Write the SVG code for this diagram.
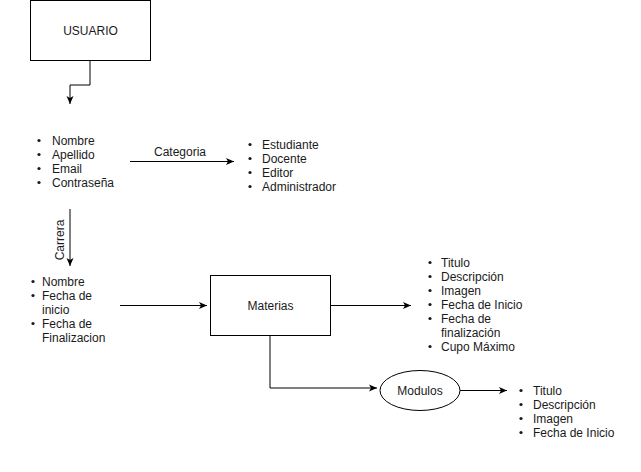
<svg xmlns="http://www.w3.org/2000/svg" width="641" height="472" viewBox="0 0 641 472">
<defs>
<style>
text{font-family:"Liberation Sans",Arial,sans-serif;font-size:12px;fill:#1a1a1a}
.box{fill:#fff;stroke:#000;stroke-width:1}
.c{fill:none;stroke:#000;stroke-width:1}
.b{fill:#1a1a1a}
</style>
<marker id="ah" markerUnits="userSpaceOnUse" markerWidth="10" markerHeight="10" refX="8" refY="4" orient="auto" viewBox="0 0 10 8">
<path d="M0,0.5 L8,4 L0,7.5 L2,4 z" fill="#000"/>
</marker>
</defs>
<rect width="641" height="472" fill="#fff"/>
<g id="connectors">
<path class="c" d="M90,60 V85 H70 V104" marker-end="url(#ah)"/>
<path class="c" d="M130,161.5 H234" marker-end="url(#ah)"/>
<path class="c" d="M70,209 V266" marker-end="url(#ah)"/>
<text transform="translate(64,240) rotate(-90)" text-anchor="middle">Carrera</text>
<text x="180" y="156" text-anchor="middle">Categoria</text>
<path class="c" d="M120,305.5 H207" marker-end="url(#ah)"/>
<path class="c" d="M330,305.5 H411" marker-end="url(#ah)"/>
<path class="c" d="M270,335 V388 H377" marker-end="url(#ah)"/>
<path class="c" d="M460,390.5 H507" marker-end="url(#ah)"/>
</g>
<g id="usuario">
<rect class="box" x="30.5" y="0.5" width="120" height="60"/>
<text x="90.5" y="34.5" text-anchor="middle">USUARIO</text>
</g>
<g id="usuario-attrs">
<circle class="b" cx="39" cy="140.5" r="1.6"/><text x="52" y="144.5">Nombre</text>
<circle class="b" cx="39" cy="154.5" r="1.6"/><text x="52" y="158.5">Apellido</text>
<circle class="b" cx="39" cy="168.5" r="1.6"/><text x="52" y="172.5">Email</text>
<circle class="b" cx="39" cy="182.5" r="1.6"/><text x="52" y="186.5">Contraseña</text>
</g>
<g id="categorias">
<circle class="b" cx="250" cy="144.5" r="1.6"/><text x="262" y="148.5">Estudiante</text>
<circle class="b" cx="250" cy="158.5" r="1.6"/><text x="262" y="162.5">Docente</text>
<circle class="b" cx="250" cy="172.5" r="1.6"/><text x="262" y="176.5">Editor</text>
<circle class="b" cx="250" cy="186.5" r="1.6"/><text x="262" y="190.5">Administrador</text>
</g>
<g id="carrera-attrs">
<circle class="b" cx="33" cy="281.5" r="1.6"/><text x="42" y="285.5">Nombre</text>
<circle class="b" cx="33" cy="295.5" r="1.6"/><text x="42" y="299.5">Fecha de</text>
<text x="42" y="313.5">inicio</text>
<circle class="b" cx="33" cy="323.5" r="1.6"/><text x="42" y="327.5">Fecha de</text>
<text x="42" y="341.5">Finalizacion</text>
</g>
<g id="materias">
<rect class="box" x="210.5" y="275.5" width="120" height="60"/>
<text x="270.5" y="309.5" text-anchor="middle">Materias</text>
</g>
<g id="materias-attrs">
<circle class="b" cx="430" cy="262.5" r="1.6"/><text x="441" y="266.5">Titulo</text>
<circle class="b" cx="430" cy="276.5" r="1.6"/><text x="441" y="280.5">Descripción</text>
<circle class="b" cx="430" cy="290.5" r="1.6"/><text x="441" y="294.5">Imagen</text>
<circle class="b" cx="430" cy="304.5" r="1.6"/><text x="441" y="308.5">Fecha de Inicio</text>
<circle class="b" cx="430" cy="318.5" r="1.6"/><text x="441" y="322.5">Fecha de</text>
<text x="441" y="336.5">finalización</text>
<circle class="b" cx="430" cy="346.5" r="1.6"/><text x="441" y="350.5">Cupo Máximo</text>
</g>
<g id="modulos">
<ellipse class="box" cx="420" cy="390.5" rx="40" ry="20"/>
<text x="420" y="394.5" text-anchor="middle">Modulos</text>
</g>
<g id="modulos-attrs">
<circle class="b" cx="521" cy="390.5" r="1.6"/><text x="533" y="394.5">Titulo</text>
<circle class="b" cx="521" cy="404.5" r="1.6"/><text x="533" y="408.5">Descripción</text>
<circle class="b" cx="521" cy="418.5" r="1.6"/><text x="533" y="422.5">Imagen</text>
<circle class="b" cx="521" cy="432.5" r="1.6"/><text x="533" y="436.5">Fecha de Inicio</text>
</g>
</svg>
